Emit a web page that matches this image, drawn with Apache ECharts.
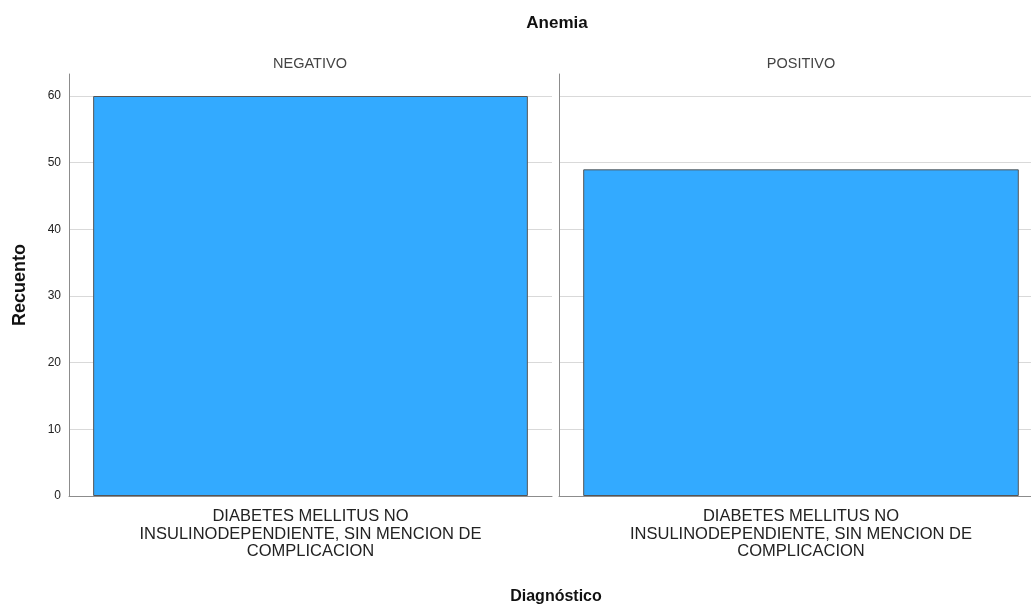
<!DOCTYPE html>
<html>
<head>
<meta charset="utf-8">
<script src="https://cdn.jsdelivr.net/npm/echarts@6/dist/echarts.min.js"></script>
<style>
  html, body { margin: 0; padding: 0; background: #fff; }
  #chart { width: 1031px; height: 608px; }
</style>
</head>
<body>
<div id="chart"></div>
<script>
// data
const panels = ['NEGATIVO', 'POSITIVO']
const categories = ['DIABETES MELLITUS NO\nINSULINODEPENDIENTE, SIN MENCION DE\nCOMPLICACION']
const negativoCounts = [60]
const positivoCounts = [49]
const yTicks = [0, 10, 20, 30, 40, 50, 60]

const font = 'Liberation Sans, Arial, sans-serif'
const barColor = '#33aaff'
const axisColor = '#8c8c8c'
const gridColor = '#d9d9d9'

const chart = echarts.init(document.getElementById('chart'), null, { renderer: 'canvas' })

function makeXAxis(gridIndex) {
  return {
    type: 'category',
    gridIndex,
    data: categories,
    axisLine: { lineStyle: { color: axisColor } },
    axisTick: { show: false },
    axisLabel: {
      color: '#222',
      fontFamily: font,
      fontSize: 16.5,
      lineHeight: 17.5,
      margin: 12,
    },
  }
}

function makeYAxis(gridIndex, showLabels) {
  return {
    type: 'value',
    gridIndex,
    min: yTicks[0],
    max: 63.3,
    interval: 10,
    axisLine: { show: true, lineStyle: { color: axisColor } },
    axisTick: { show: false },
    axisLabel: {
      show: showLabels,
      showMaxLabel: false,
      color: '#222',
      fontFamily: font,
      fontSize: 12,
      margin: 8,
      formatter: v => (yTicks.includes(v) ? String(v) : ''),
    },
    splitLine: {
      show: true,
      showMaxLine: false,
      lineStyle: { color: gridColor, width: 1 },
    },
  }
}

// title has 5px padding, so centres are given 5px to the left
const option = {
  animation: false,
  title: [
    {
      text: 'Anemia', left: 552, top: 10, textAlign: 'center',
      textStyle: { fontFamily: font, fontSize: 17, fontWeight: 'bold', color: '#111' },
    },
    {
      text: panels[0], left: 305, top: 51, textAlign: 'center',
      textStyle: { fontFamily: font, fontSize: 14.5, fontWeight: 'normal', color: '#444' },
    },
    {
      text: panels[1], left: 796, top: 51, textAlign: 'center',
      textStyle: { fontFamily: font, fontSize: 14.5, fontWeight: 'normal', color: '#444' },
    },
    {
      text: 'Diagnóstico', left: 551, top: 584, textAlign: 'center',
      textStyle: { fontFamily: font, fontSize: 16, fontWeight: 'bold', color: '#111' },
    },
  ],
  graphic: [
    {
      type: 'text',
      x: 20,
      y: 285,
      rotation: Math.PI / 2,
      style: {
        text: 'Recuento',
        font: 'bold 18px ' + font,
        fill: '#111',
        align: 'center',
        verticalAlign: 'middle',
      },
    },
  ],
  grid: [
    { left: 69, top: 74, width: 483, height: 422, outerBoundsMode: 'none' },
    { left: 559, top: 74, width: 484, height: 422, outerBoundsMode: 'none' },
  ],
  xAxis: [makeXAxis(0), makeXAxis(1)],
  yAxis: [makeYAxis(0, true), makeYAxis(1, false)],
  series: [
    {
      name: panels[0],
      type: 'bar',
      xAxisIndex: 0,
      yAxisIndex: 0,
      data: negativoCounts,
      barWidth: '90%',
      itemStyle: { color: barColor, borderColor: '#555', borderWidth: 1 },
    },
    {
      name: panels[1],
      type: 'bar',
      xAxisIndex: 1,
      yAxisIndex: 1,
      data: positivoCounts,
      barWidth: '90%',
      itemStyle: { color: barColor, borderColor: '#555', borderWidth: 1 },
    },
  ],
}

chart.setOption(option)
</script>
</body>
</html>
